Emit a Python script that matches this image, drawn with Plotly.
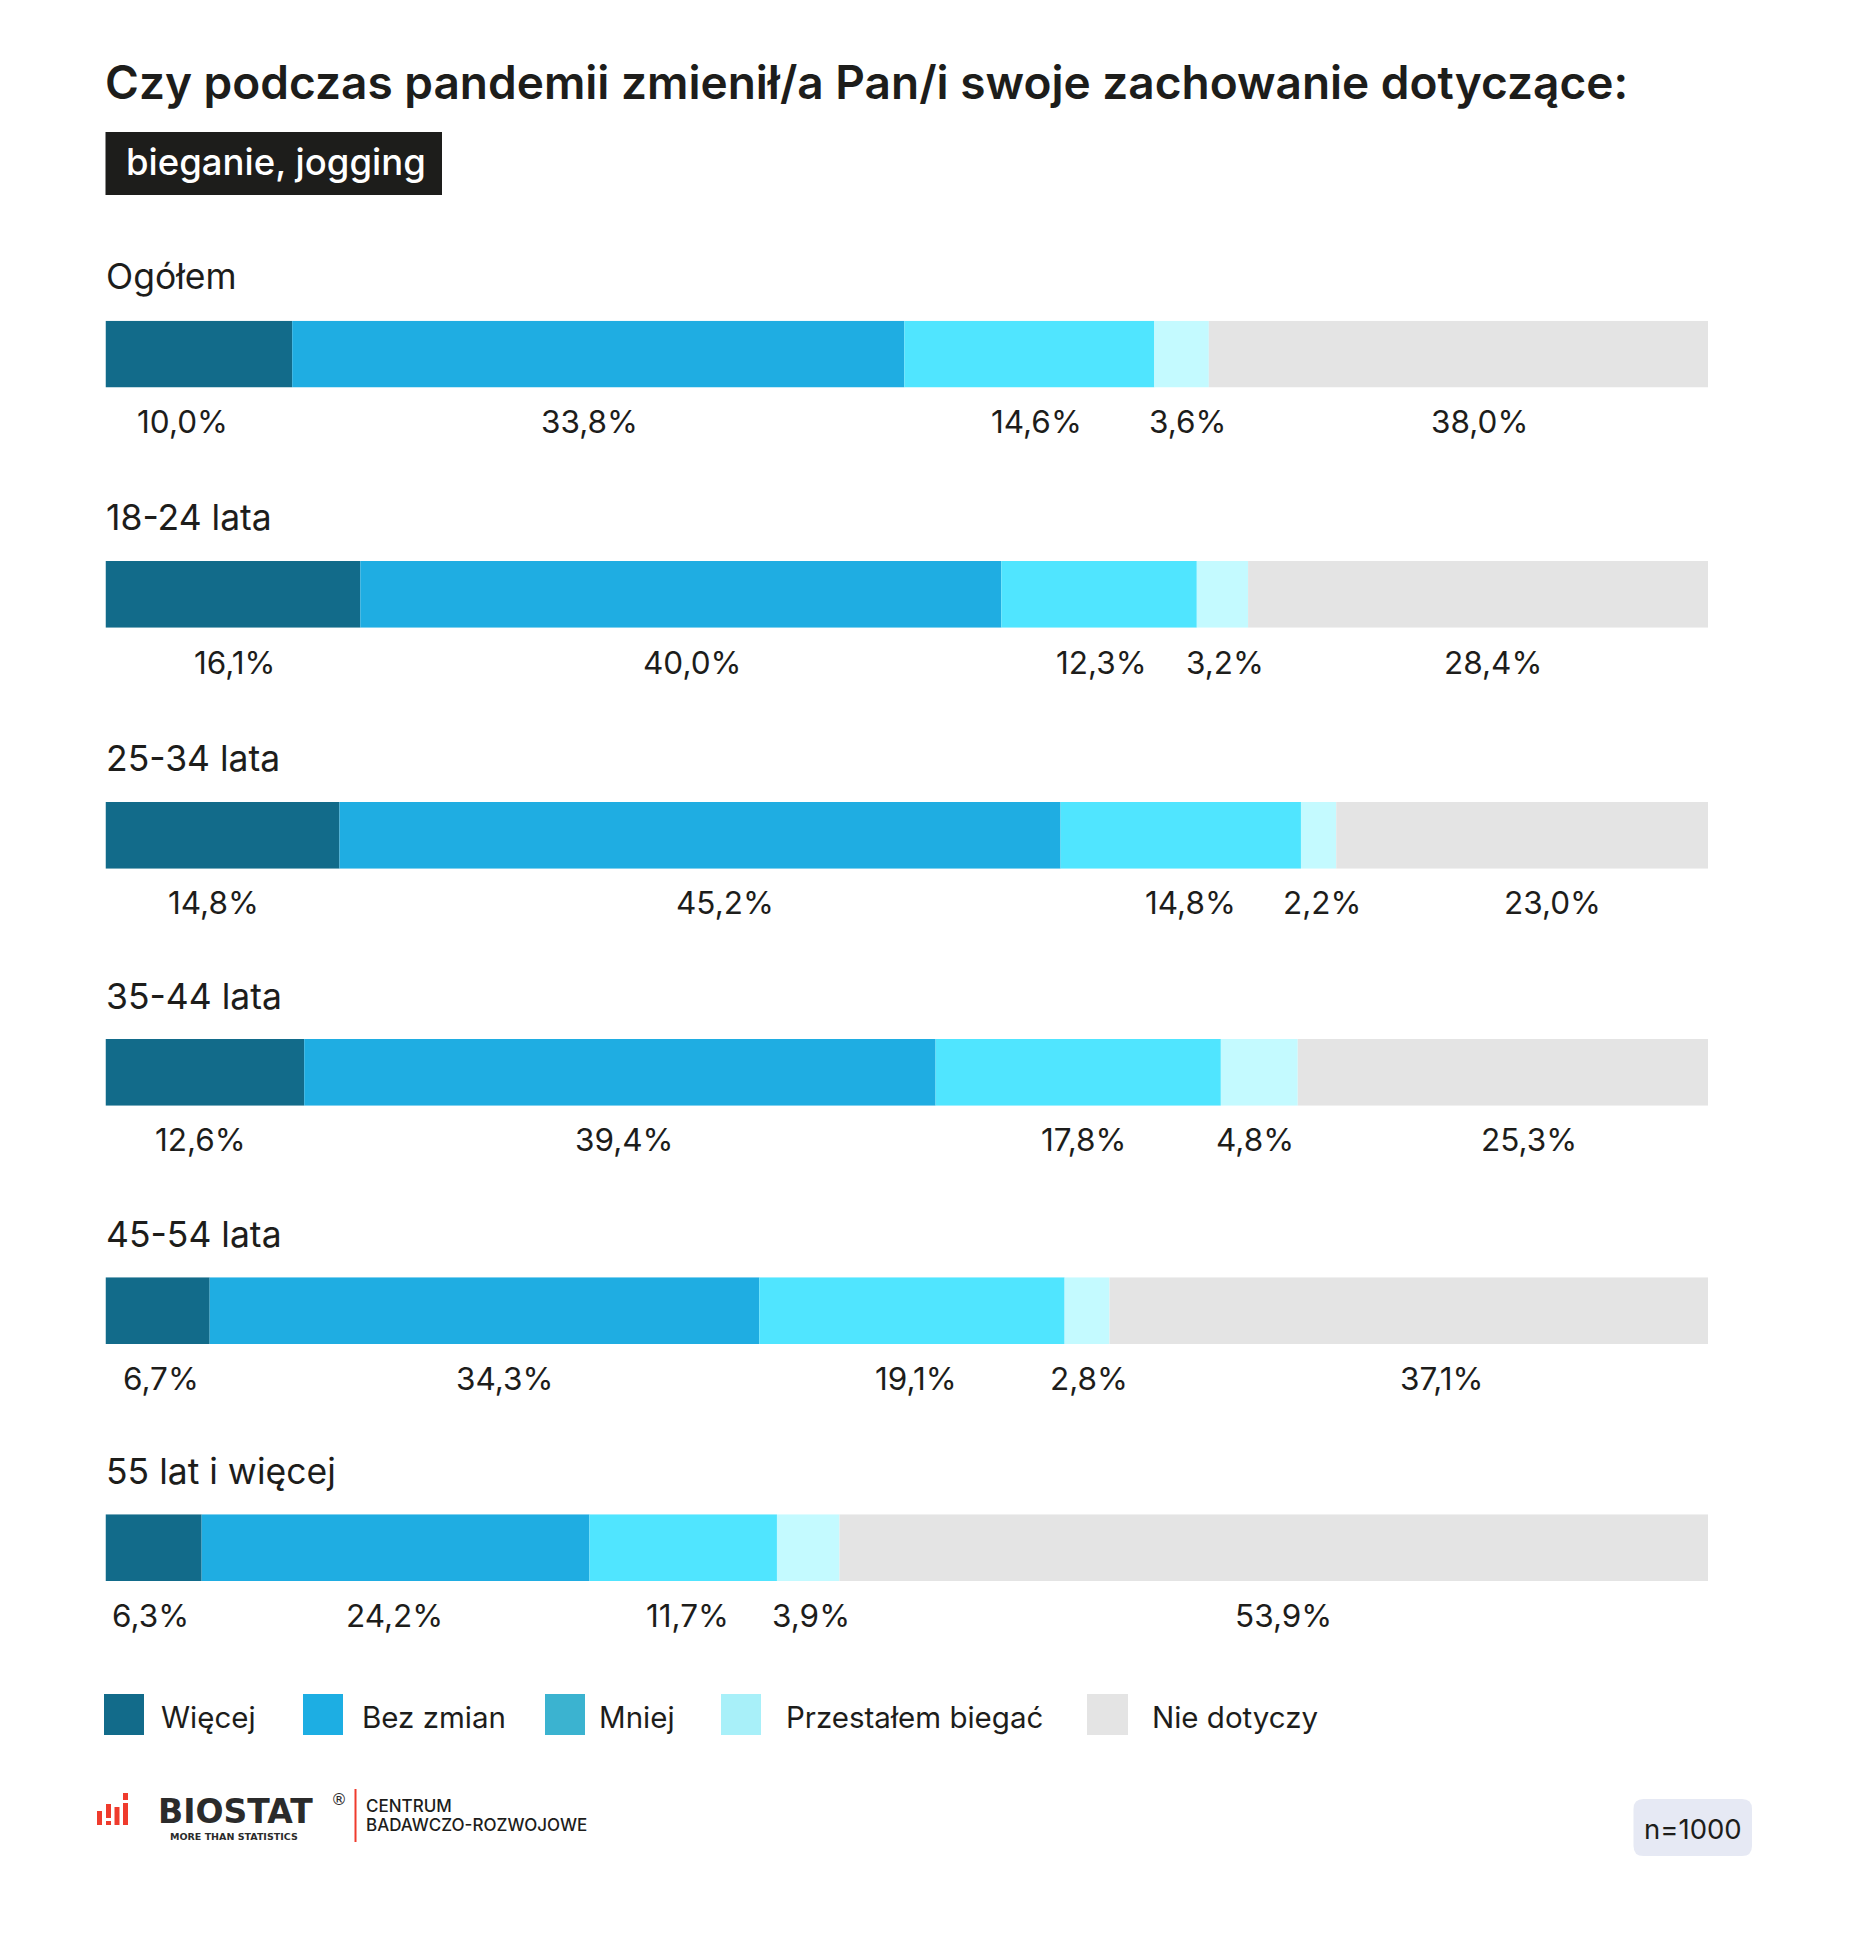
import plotly.graph_objects as go

# ---- data -------------------------------------------------------------
title = "Czy podczas pandemii zmienił/a Pan/i swoje zachowanie dotyczące:"
subtitle = "bieganie, jogging"
groups = ["Ogółem", "18-24 lata", "25-34 lata", "35-44 lata", "45-54 lata", "55 lat i więcej"]
series = ["Więcej", "Bez zmian", "Mniej", "Przestałem biegać", "Nie dotyczy"]

# bar lengths as drawn in the picture
wiecej = [11.65, 15.9, 14.6, 12.4, 6.5, 6.0]
bez_zmian = [38.2, 40.0, 45.0, 39.4, 34.3, 24.2]
mniej = [15.6, 12.2, 15.0, 17.8, 19.05, 11.7]
przestalem = [3.4, 3.2, 2.2, 4.8, 2.8, 3.9]
nie_dotyczy = [31.15, 28.7, 23.2, 25.6, 37.35, 54.2]

# printed value labels
lab_wiecej = ["10,0%", "16,1%", "14,8%", "12,6%", "6,7%", "6,3%"]
lab_bez = ["33,8%", "40,0%", "45,2%", "39,4%", "34,3%", "24,2%"]
lab_mniej = ["14,6%", "12,3%", "14,8%", "17,8%", "19,1%", "11,7%"]
lab_przest = ["3,6%", "3,2%", "2,2%", "4,8%", "2,8%", "3,9%"]
lab_nie = ["38,0%", "28,4%", "23,0%", "25,3%", "37,1%", "53,9%"]
sample = "n=1000"

# ---- styles / layout --------------------------------------------------
W, H = 1851, 1938
FONT = "Inter"
INK = "#1d1d1b"
bar_colors = ["#126b8a", "#1fade2", "#50e5ff", "#c4faff", "#e4e4e4"]
legend_colors = ["#126b8a", "#1daee3", "#3bb3d0", "#a8f0f9", "#e4e4e4"]
X0, X1 = 105.5, 1708
bar_tops = [320.7, 561, 802, 1039, 1277.3, 1514.3]
BAR_H = 66.8
title_ys = [277, 517, 758, 996, 1234, 1471]
label_ys = [421, 662, 902, 1139, 1378, 1615]
label_dx = [
    [-16, -9, 7, 6, 21],
    [2, 12, 2, 3, 15],
    [-9, 25, 10, 3, 30],
    [-4, 5, 6, -4, 26],
    [3, 20, 4, 2, 33],
    [-3, -1, 4, 3, 10],
]
legend_boxes = [(104, 144), (303, 343), (545, 585), (721, 761), (1087, 1128)]
legend_text_x = [159, 360, 597, 784, 1150]


def px(x):
    return x / W


def py(y):
    return 1 - y / H


def text(x, y, s, size, color=INK, anchor="left", weight=400, family=FONT):
    return dict(xref="paper", yref="paper", x=px(x), y=py(y), text=s, showarrow=False,
                xanchor=anchor, yanchor="middle", align=anchor,
                font=dict(family=family, size=size, color=color, weight=weight))


def rect(x0, y0, x1, y1, color):
    return dict(type="rect", xref="paper", yref="paper", x0=px(x0), x1=px(x1),
                y0=py(y1), y1=py(y0), fillcolor=color, line=dict(width=0), layer="below")


columns = [wiecej, bez_zmian, mniej, przestalem, nie_dotyczy]
label_cols = [lab_wiecej, lab_bez, lab_mniej, lab_przest, lab_nie]

fig = go.Figure()
layout_axes = {}
annotations = []
for r, group in enumerate(groups):
    ya = "y" if r == 0 else f"y{r + 1}"
    key = "yaxis" if r == 0 else f"yaxis{r + 1}"
    layout_axes[key] = dict(domain=[py(bar_tops[r] + BAR_H), py(bar_tops[r])], visible=False,
                            type="category", fixedrange=True)
    left = 0
    for s, col in enumerate(columns):
        fig.add_trace(go.Bar(
            x=[col[r]], y=[group], base=[left], orientation="h", yaxis=ya, xaxis="x",
            width=1.0, name=series[s], showlegend=False,
            marker=dict(color=bar_colors[s], line=dict(width=0)),
        ))
        mid = left + col[r] / 2
        annotations.append(dict(
            xref="x", yref="paper", x=mid, y=py(label_ys[r]), text=label_cols[s][r],
            showarrow=False, xanchor="center", yanchor="middle", xshift=label_dx[r][s],
            font=dict(family=FONT, size=31.5, color=INK)))
        left += col[r]
    annotations.append(text(104, title_ys[r], group, 35.5))

annotations.append(text(103, 82, title, 46, weight=600))
annotations.append(text(124, 162, subtitle, 36.5, color="#ffffff", weight=500))

shapes = [rect(105.5, 132, 442, 195, INK)]
for (a, b), c, t, tx in zip(legend_boxes, legend_colors, series, legend_text_x):
    shapes.append(rect(a, 1694, b, 1735, c))
    annotations.append(text(tx, 1717, t, 29.5))

# sample badge
annotations.append(text(1693, 1829, sample, 27.5, anchor="center"))
bx0, bx1, by0, by1, rad = px(1633.5), px(1752), py(1856), py(1799), 10
rx, ry = rad / W, rad / H
shapes.append(dict(
    type="path", xref="paper", yref="paper", fillcolor="#e6e9f4", line=dict(width=0), layer="below",
    path=(f"M {bx0 + rx} {by0} L {bx1 - rx} {by0} Q {bx1} {by0} {bx1} {by0 + ry} "
          f"L {bx1} {by1 - ry} Q {bx1} {by1} {bx1 - rx} {by1} L {bx0 + rx} {by1} "
          f"Q {bx0} {by1} {bx0} {by1 - ry} L {bx0} {by0 + ry} Q {bx0} {by0} {bx0 + rx} {by0} Z"),
))

# logo
RED = "#ef3b2d"
for x, t, b in [(99.5, 1811, 1825), (108.5, 1804, 1818), (108.5, 1821, 1825),
                (117, 1807, 1825), (125.5, 1793, 1800), (125.5, 1803, 1825)]:
    shapes.append(dict(type="line", xref="paper", yref="paper", x0=px(x), x1=px(x), y0=py(b), y1=py(t),
                       line=dict(color=RED, width=5), layer="below"))
shapes.append(rect(354.5, 1789, 356.5, 1842, RED))
annotations.append(text(235, 1811, "BIOSTAT", 33, anchor="center", color="#2b2b2b", weight=700, family="DejaVu Sans"))
annotations.append(text(234, 1836, "MORE THAN STATISTICS", 9.5, anchor="center", color="#2b2b2b", weight=700, family="DejaVu Sans"))
annotations.append(text(339, 1799, "®", 16, anchor="center", color="#2b2b2b", family="DejaVu Sans"))
annotations.append(text(364, 1806, "CENTRUM", 17, weight=500))
annotations.append(text(364, 1825, "BADAWCZO-ROZWOJOWE", 17, weight=500))

fig.update_layout(
    width=W, height=H, margin=dict(l=0, r=0, t=0, b=0), autosize=False,
    paper_bgcolor="#ffffff", plot_bgcolor="#ffffff", barmode="overlay", showlegend=False,
    xaxis=dict(domain=[px(X0), px(X1)], range=[0, 100], visible=False, fixedrange=True),
    annotations=annotations, shapes=shapes, **layout_axes,
)
fig.write_html("out.html", config={"displayModeBar": False},
               post_script="document.body.style.margin='0';document.body.style.overflow='hidden';")
